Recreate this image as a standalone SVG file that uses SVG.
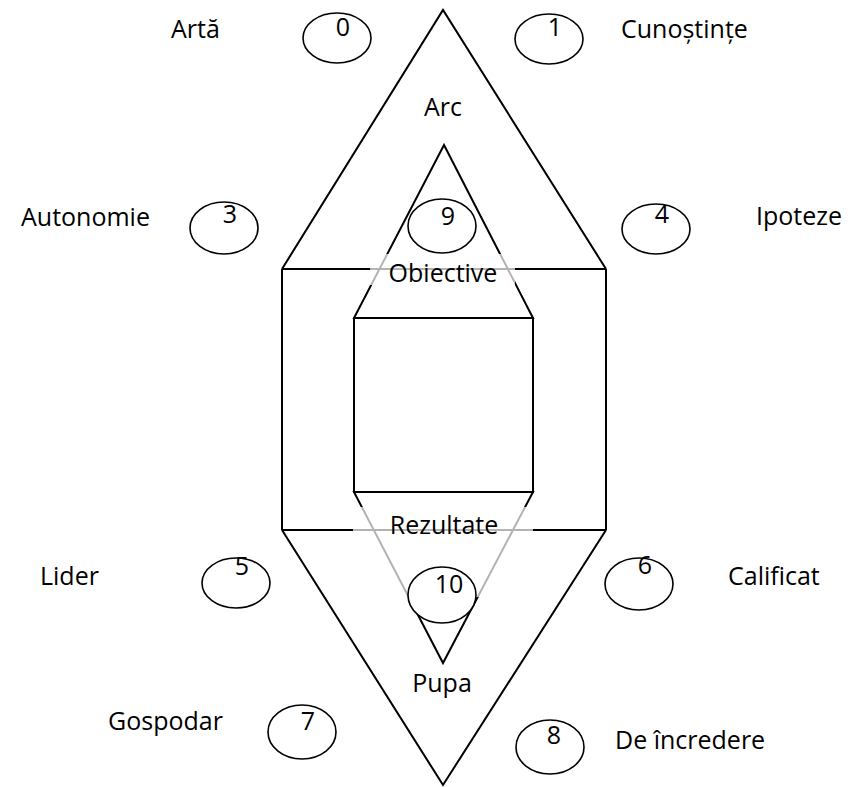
<svg xmlns="http://www.w3.org/2000/svg" width="853" height="787" viewBox="0 0 853 787">
<style>
.ln{fill:none;stroke:#000;stroke-width:2;stroke-linejoin:miter}
.el{fill:#fff;stroke:#000;stroke-width:1.6}
.t{font-family:"Open Sans","Liberation Sans",sans-serif;font-size:25px;fill:#000}
.m{text-anchor:middle}
.veil{fill:#fff;fill-opacity:0.7;stroke:none}
</style>
<rect width="853" height="787" fill="#fff"/>
<g id="frame">
  <polyline class="ln" points="282,269 443,10 606,269"/>
  <line class="ln" x1="282" y1="269" x2="606" y2="269"/>
  <line class="ln" x1="282" y1="269" x2="282" y2="530"/>
  <line class="ln" x1="606" y1="269" x2="606" y2="530"/>
  <line class="ln" x1="282" y1="530" x2="606" y2="530"/>
  <polyline class="ln" points="282,530 443,785 606,530"/>
  <polygon class="ln" points="444,145 354,318 533,318" fill="#fff"/>
  <rect class="ln" x="354" y="318" width="179" height="174"/>
  <polygon class="ln" points="354,492 533,492 443,663" fill="#fff"/>
  <rect class="veil" x="370" y="254" width="145" height="31"/>
  <rect class="veil" x="353" y="507" width="180" height="90"/>
</g>
<g id="arc"><text class="t m" x="443" y="116">Arc</text></g>
<g id="obiective"><text class="t m" x="443" y="282">Obiective</text></g>
<g id="rezultate"><text class="t m" x="444" y="534">Rezultate</text></g>
<g id="pupa"><text class="t m" x="442" y="692">Pupa</text></g>
<g id="n0"><ellipse class="el" cx="337" cy="38" rx="34" ry="25"/><text class="t m" x="343" y="36">0</text><text class="t" x="171" y="38">Artă</text></g>
<g id="n1"><ellipse class="el" cx="549" cy="39" rx="34" ry="25"/><text class="t m" x="555" y="36">1</text><text class="t" x="621" y="38">Cunoștințe</text></g>
<g id="n3"><ellipse class="el" cx="224" cy="228" rx="34" ry="26"/><text class="t m" x="230" y="223">3</text><text class="t" x="21" y="226">Autonomie</text></g>
<g id="n4"><ellipse class="el" cx="656" cy="229" rx="34" ry="25"/><text class="t m" x="662" y="223">4</text><text class="t" x="756" y="225">Ipoteze</text></g>
<g id="n9"><ellipse class="el" cx="442" cy="226" rx="34" ry="27"/><text class="t m" x="448" y="225">9</text></g>
<g id="n5"><ellipse class="el" cx="236" cy="583" rx="34" ry="25"/><text class="t m" x="242" y="575">5</text><text class="t" x="40" y="585">Lider</text></g>
<g id="n6"><ellipse class="el" cx="639" cy="584" rx="34" ry="26"/><text class="t m" x="645" y="574">6</text><text class="t" x="728" y="585">Calificat</text></g>
<g id="n10"><ellipse class="el" cx="442" cy="595" rx="34" ry="28"/><text class="t m" x="449" y="593">10</text></g>
<g id="n7"><ellipse class="el" cx="302" cy="732" rx="34" ry="27"/><text class="t m" x="308" y="730">7</text><text class="t" x="108" y="730">Gospodar</text></g>
<g id="n8"><ellipse class="el" cx="550" cy="747" rx="34" ry="27"/><text class="t m" x="554" y="744">8</text><text class="t" x="615" y="749">De încredere</text></g>
<g id="connectors"></g>
</svg>
